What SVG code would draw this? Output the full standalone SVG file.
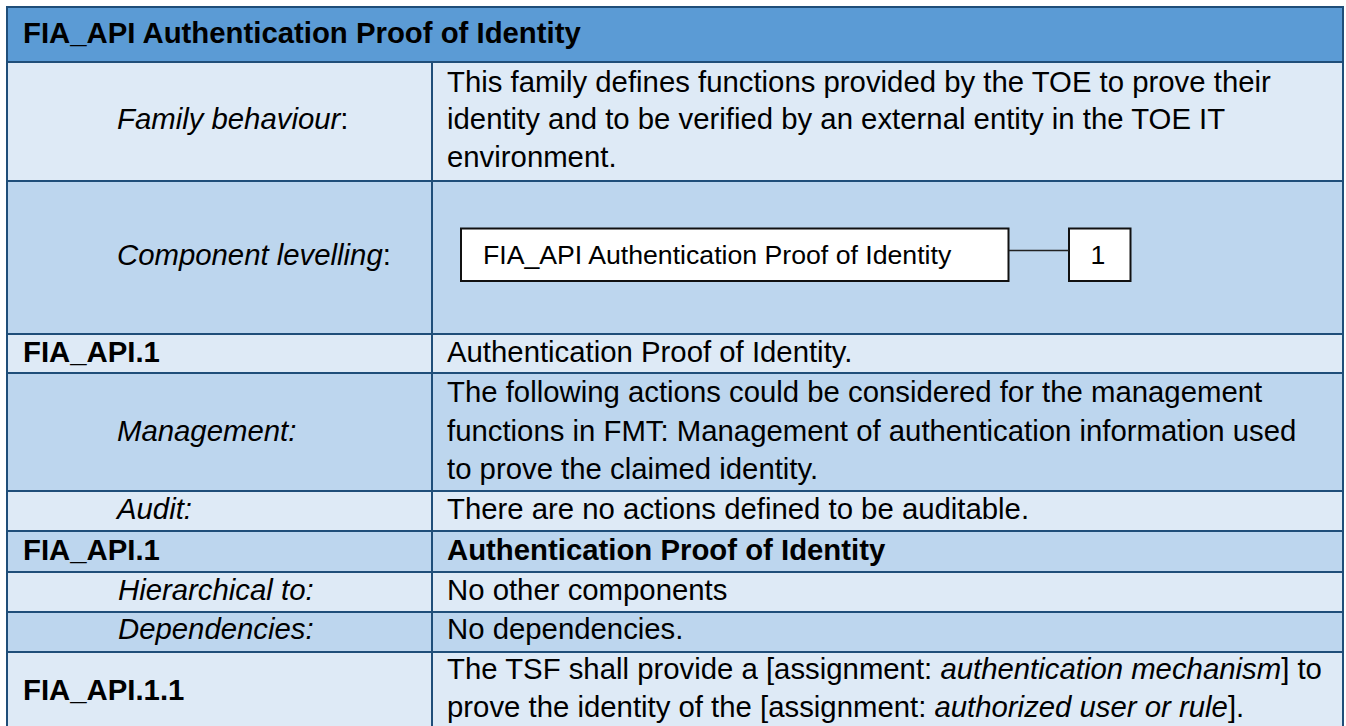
<svg xmlns="http://www.w3.org/2000/svg" width="1346" height="726" viewBox="0 0 1346 726">
<style>
text{font-family:"Liberation Sans",Arial,sans-serif;font-size:29.33px;fill:#000}
.b{font-weight:bold}
.i{font-style:italic}
.n{font-style:normal}
.hd{fill:#5B9BD5}
.lt{fill:#DEEAF6}
.md{fill:#BDD6EE}
.grid{stroke:#1F4E79;stroke-width:2;fill:none}
.box{fill:#fff;stroke:#111;stroke-width:2}
.bt{font-size:26.67px}
.conn{stroke:#222;stroke-width:1.5}
</style>
<g id="backgrounds">
<rect class="hd" x="7" y="7" width="1336" height="55"/>
<rect class="lt" x="7" y="62" width="1336" height="119"/>
<rect class="md" x="7" y="181" width="1336" height="153"/>
<rect class="lt" x="7" y="334" width="1336" height="39"/>
<rect class="md" x="7" y="373" width="1336" height="118"/>
<rect class="lt" x="7" y="491" width="1336" height="40"/>
<rect class="md" x="7" y="531" width="1336" height="41"/>
<rect class="lt" x="7" y="572" width="1336" height="40"/>
<rect class="md" x="7" y="612" width="1336" height="40"/>
<rect class="lt" x="7" y="652" width="1336" height="80"/>
</g>
<g id="grid" class="grid">
<path d="M7 7H1343M7 62H1343M7 181H1343M7 334H1343M7 373H1343M7 491H1343M7 531H1343M7 572H1343M7 612H1343M7 652H1343"/>
<path d="M7 6V730M1343 6V730M432 62V730"/>
</g>
<g id="header"><text class="b" x="23" y="43">FIA_API Authentication Proof of Identity</text></g>
<g id="row-family">
<text x="117" y="129"><tspan class="i">Family behaviour</tspan>:</text>
<text x="447" y="91.5">This family defines functions provided by the TOE to prove their</text>
<text x="447" y="129">identity and to be verified by an external entity in the TOE IT</text>
<text x="447" y="166.5">environment.</text>
</g>
<g id="row-levelling">
<text x="117" y="265"><tspan class="i">Component levelling</tspan>:</text>
</g>
<g id="node-family">
<rect class="box" x="461" y="228.5" width="547.5" height="52.5"/>
<text class="bt" x="483" y="263.5">FIA_API Authentication Proof of Identity</text>
</g>
<g id="node-1">
<rect class="box" x="1069" y="228.5" width="61.5" height="52.5"/>
<text class="bt" x="1098" y="264" text-anchor="middle">1</text>
</g>
<g id="connectors">
<line class="conn" x1="1009" y1="250.5" x2="1069" y2="250.5"/>
</g>
<g id="row-api1">
<text class="b" x="23" y="361.5">FIA_API.1</text>
<text x="447" y="361.5">Authentication Proof of Identity.</text>
</g>
<g id="row-management">
<text class="i" x="117" y="440.5">Management:</text>
<text x="447" y="401.5">The following actions could be considered for the management</text>
<text x="447" y="440.5">functions in FMT: Management of authentication information used</text>
<text x="447" y="479">to prove the claimed identity.</text>
</g>
<g id="row-audit">
<text class="i" x="117" y="519">Audit:</text>
<text x="447" y="519">There are no actions defined to be auditable.</text>
</g>
<g id="row-api1b">
<text class="b" x="23" y="559.5">FIA_API.1</text>
<text class="b" x="447" y="559.5">Authentication Proof of Identity</text>
</g>
<g id="row-hier">
<text class="i" x="118" y="599.5">Hierarchical to:</text>
<text x="447" y="599.5">No other components</text>
</g>
<g id="row-dep">
<text class="i" x="118" y="639">Dependencies:</text>
<text x="447" y="639">No dependencies.</text>
</g>
<g id="row-api11">
<text class="b" x="23" y="700">FIA_API.1.1</text>
<text x="447" y="679">The TSF shall provide a [assignment: <tspan class="i">authentication mechanism</tspan>] to</text>
<text x="447" y="717">prove the identity of the [assignment: <tspan class="i">authorized user or rule</tspan>].</text>
</g>
</svg>
